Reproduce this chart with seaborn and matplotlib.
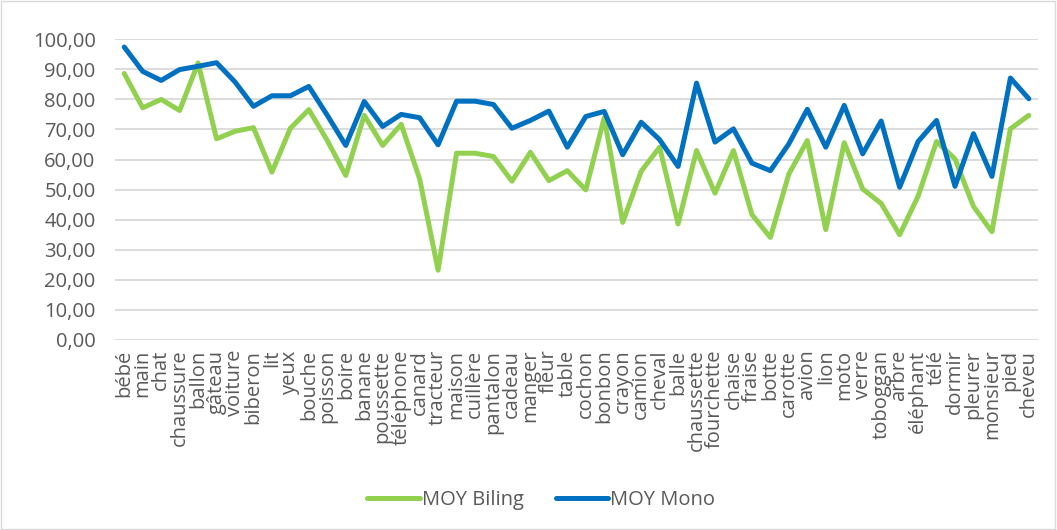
import matplotlib
matplotlib.use("Agg")
import matplotlib.pyplot as plt
import seaborn as sns
import pandas as pd
from matplotlib.ticker import FuncFormatter

mots = ["bébé", "main", "chat", "chaussure", "ballon", "gâteau", "voiture", "biberon", "lit", "yeux",
        "bouche", "poisson", "boire", "banane", "poussette", "téléphone", "canard", "tracteur", "maison", "cuillère",
        "pantalon", "cadeau", "manger", "fleur", "table", "cochon", "bonbon", "crayon", "camion", "cheval",
        "balle", "chaussette", "fourchette", "chaise", "fraise", "botte", "carotte", "avion", "lion", "moto",
        "verre", "toboggan", "arbre", "éléphant", "télé", "dormir", "pleurer", "monsieur", "pied", "cheveu"]

moy_biling = [88.6, 77.2, 80.0, 76.3, 92.1, 66.9, 69.4, 70.6, 55.8, 70.4,
              76.6, 66.3, 54.7, 74.7, 64.7, 71.7, 53.6, 23.2, 62.1, 62.1,
              61.0, 52.8, 62.4, 53.0, 56.3, 49.9, 73.9, 39.1, 56.1, 64.1,
              38.6, 63.0, 48.8, 63.0, 41.7, 34.1, 55.2, 66.3, 36.7, 65.6,
              50.2, 45.4, 35.0, 47.8, 66.0, 60.2, 44.4, 36.0, 70.2, 74.7]

moy_mono = [97.4, 89.3, 86.3, 89.9, 91.0, 92.2, 85.8, 77.7, 81.2, 81.2,
            84.3, 74.7, 64.7, 79.3, 71.0, 75.0, 73.9, 64.9, 79.4, 79.4,
            78.3, 70.4, 73.0, 76.1, 64.1, 74.3, 76.0, 61.6, 72.4, 66.6,
            57.7, 85.4, 65.8, 70.2, 58.8, 56.3, 65.2, 76.7, 64.1, 78.0,
            61.9, 72.8, 50.8, 66.0, 73.0, 51.1, 68.6, 54.4, 87.1, 80.2]

df = pd.DataFrame({
    "mot": mots * 2,
    "moyenne": moy_biling + moy_mono,
    "groupe": ["MOY Biling"] * len(mots) + ["MOY Mono"] * len(mots),
})

sns.set_style("white")
plt.rcParams["font.family"] = ["Open Sans", "DejaVu Sans"]
gris = "#595959"

fig = plt.figure(figsize=(10.57, 5.30), dpi=100)
ax = fig.add_axes([0.1088, 0.3585, 0.8733, 0.5675])

sns.lineplot(data=df, x="mot", y="moyenne", hue="groupe", sort=False,
             palette={"MOY Biling": "#92D050", "MOY Mono": "#0070C0"},
             linewidth=3.6, ax=ax, legend=True)

ax.set_ylim(0, 100)
ax.set_xlim(-0.5, len(mots) - 0.5)
ax.set_yticks(range(0, 101, 10))
ax.yaxis.set_major_formatter(FuncFormatter(lambda v, p: f"{v:.2f}".replace(".", ",")))
ax.grid(axis="y", color="#D9D9D9", linewidth=1.3)
ax.set_axisbelow(True)
for s in ax.spines.values():
    s.set_visible(False)
ax.set_xlabel("")
ax.set_ylabel("")
ax.tick_params(axis="both", length=0, colors=gris, labelsize=14.5)
ax.tick_params(axis="y", pad=14)
ax.tick_params(axis="x", pad=7)
plt.setp(ax.get_xticklabels(), rotation=90)

for line in ax.get_lines():
    line.set_solid_capstyle("round")
    line.set_solid_joinstyle("round")

handles, labels = ax.get_legend_handles_labels()
ax.get_legend().remove()
leg = fig.legend(handles, labels, loc="center", bbox_to_anchor=(0.512, 1 - 500 / 530),
                 ncol=2, frameon=False, fontsize=14.5, handlelength=2.6,
                 columnspacing=1.6, handletextpad=0.1, labelcolor=gris)
for h in leg.get_lines():
    h.set_linewidth(3.6)
    h.set_solid_capstyle("round")

fig.patches.append(plt.Rectangle((0.001, 0.001), 0.997, 0.997, transform=fig.transFigure,
                                 fill=False, edgecolor="#D9D9D9", linewidth=1))

fig.savefig("out.png", dpi=100)
